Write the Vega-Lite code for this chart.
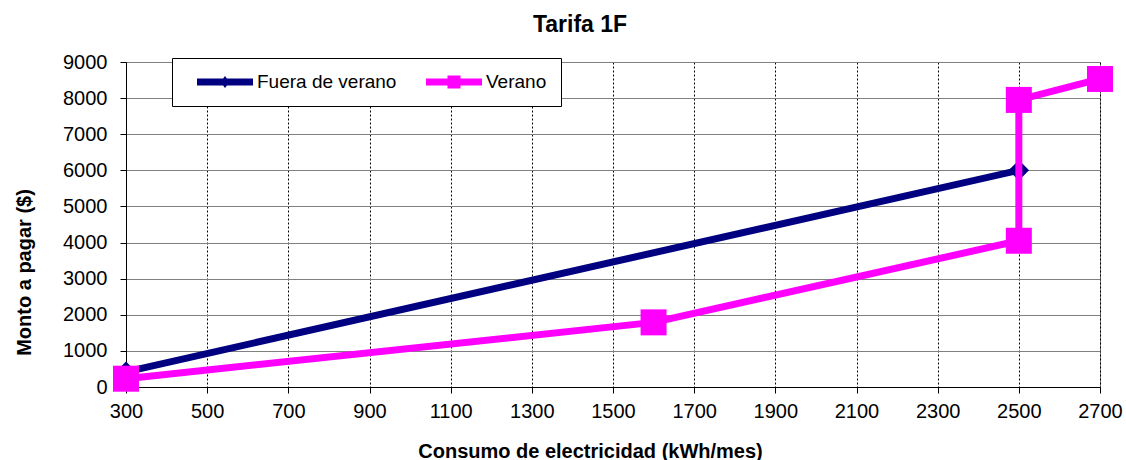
{
  "$schema": "https://vega.github.io/schema/vega-lite/v6.json",
  "width": 974,
  "height": 325,
  "autosize": {"type": "none"},
  "padding": {"left": 126, "top": 62, "right": 26, "bottom": 73},
  "background": "white",
  "title": {
    "text": "Tarifa 1F",
    "font": "Liberation Sans",
    "fontSize": 23,
    "fontWeight": "bold",
    "color": "black",
    "anchor": "middle",
    "dx": -33,
    "offset": 15
  },
  "config": {
    "view": {"stroke": "#808080", "strokeWidth": 1},
    "font": "Liberation Sans",
    "axis": {
      "labelFont": "Liberation Sans",
      "titleFont": "Liberation Sans",
      "labelFontSize": 20,
      "titleFontSize": 20,
      "titleFontWeight": "bold",
      "labelColor": "black",
      "titleColor": "black",
      "domainColor": "black",
      "domainWidth": 1,
      "tickColor": "black",
      "tickSize": 6,
      "labelFlush": false,
      "labelOverlap": false
    }
  },
  "data": {
    "values": [
      {"serie": "Fuera de verano", "kwh": 300, "monto": 420, "i": 1},
      {"serie": "Fuera de verano", "kwh": 2500, "monto": 6000, "i": 2},
      {"serie": "Verano", "kwh": 300, "monto": 230, "i": 1},
      {"serie": "Verano", "kwh": 1600, "monto": 1790, "i": 2},
      {"serie": "Verano", "kwh": 2500, "monto": 4050, "i": 3},
      {"serie": "Verano", "kwh": 2500, "monto": 7950, "i": 4},
      {"serie": "Verano", "kwh": 2700, "monto": 8530, "i": 5}
    ]
  },
  "encoding": {
    "x": {
      "field": "kwh",
      "type": "quantitative",
      "scale": {"domain": [300, 2700], "nice": false, "zero": false},
      "axis": {
        "values": [300, 500, 700, 900, 1100, 1300, 1500, 1700, 1900, 2100, 2300, 2500, 2700],
        "format": "d",
        "title": "Consumo de electricidad (kWh/mes)",
        "grid": true,
        "gridColor": "black",
        "gridDash": [2, 2],
        "gridOpacity": 1,
        "gridWidth": 1,
        "labelPadding": 8,
        "titleX": 464,
        "titleY": 70,
        "titleAlign": "center",
        "titleBaseline": "alphabetic"
      }
    },
    "y": {
      "field": "monto",
      "type": "quantitative",
      "scale": {"domain": [0, 9000], "nice": false},
      "axis": {
        "values": [0, 1000, 2000, 3000, 4000, 5000, 6000, 7000, 8000, 9000],
        "format": "d",
        "title": "Monto a pagar ($)",
        "grid": true,
        "gridColor": "#808080",
        "gridOpacity": 1,
        "gridWidth": 1,
        "labelPadding": 13,
        "titleX": -96,
        "titleY": 210,
        "titleAlign": "center",
        "titleBaseline": "alphabetic",
        "titleAngle": -90
      }
    },
    "color": {
      "field": "serie",
      "type": "nominal",
      "scale": {"domain": ["Fuera de verano", "Verano"], "range": ["#000080", "#FF00FF"]},
      "legend": {
        "title": null,
        "orient": "none",
        "legendX": 46,
        "legendY": -4,
        "direction": "horizontal",
        "columns": 2,
        "fillColor": "white",
        "strokeColor": "black",
        "padding": 14,
        "columnPadding": 18,
        "symbolSize": 400,
        "symbolOffset": 29,
        "symbolStrokeWidth": 0,
        "labelOffset": 22,
        "labelFont": "Liberation Sans",
        "labelFontSize": 19,
        "labelColor": "black",
        "labelLimit": 300,
        "encode": {
          "symbols": {
            "update": {
              "shape": {"signal": "datum.value === 'Fuera de verano' ? 'M-2.8,-0.35H2.8V0.35H-2.8Z M0,-0.6L0.45,0L0,0.6L-0.45,0Z' : 'M-2.8,-0.35H2.8V0.35H-2.8Z M-0.65,-0.65H0.65V0.65H-0.65Z'"},
              "fill": {"signal": "datum.value === 'Fuera de verano' ? '#000080' : '#FF00FF'"},
              "fillOpacity": {"value": 1},
              "strokeWidth": {"value": 0}
            }
          }
        }
      }
    },
    "order": {"field": "i", "type": "quantitative"}
  },
  "layer": [
    {
      "transform": [{"filter": "datum.serie === 'Fuera de verano'"}],
      "mark": {"type": "line", "strokeWidth": 7, "strokeCap": "round", "strokeJoin": "round"}
    },
    {
      "transform": [{"filter": "datum.serie === 'Fuera de verano'"}],
      "mark": {"type": "point", "shape": "diamond", "size": 420, "filled": true, "opacity": 1, "strokeWidth": 0}
    },
    {
      "transform": [{"filter": "datum.serie === 'Verano'"}],
      "mark": {"type": "line", "strokeWidth": 7, "strokeCap": "round", "strokeJoin": "round"}
    },
    {
      "transform": [{"filter": "datum.serie === 'Verano'"}],
      "mark": {"type": "point", "shape": "square", "size": 676, "filled": true, "opacity": 1, "strokeWidth": 0}
    }
  ]
}
